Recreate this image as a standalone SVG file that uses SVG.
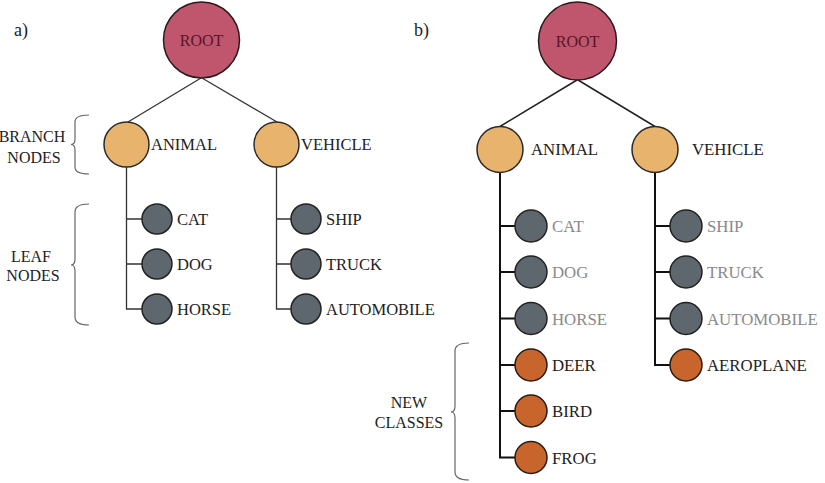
<svg xmlns="http://www.w3.org/2000/svg" width="825" height="483" viewBox="0 0 825 483">
<style>
text{font-family:"Liberation Serif","Times New Roman",serif;fill:#222;}
.lbl{font-size:16.5px;}
.lblb{font-size:16.8px;}
.gray{fill:#8a8a8a;}
.side{font-size:16px;text-anchor:middle;}
.tag{font-size:18px;}
.roottxt{font-size:16px;fill:#5a1425;text-anchor:middle;}
.root{fill:#c0566d;stroke:#2a1a1a;stroke-width:1.5;}
.branch{fill:#e8b46d;stroke:#2a2a2a;stroke-width:1.5;}
.leaf{fill:#5d676d;stroke:#222;stroke-width:1.5;}
.new{fill:#c8652c;stroke:#2a1a10;stroke-width:1.5;}
.la{fill:none;stroke:#333;stroke-width:1.3;}
.lb{fill:none;stroke:#111;stroke-width:2;}
.lbd{fill:none;stroke:#222;stroke-width:1.5;}
.brace{fill:none;stroke:#666;stroke-width:1.2;}
</style>
<g id="connectors">
<line class="la" x1="201" y1="78" x2="128" y2="122"/>
<line class="la" x1="202" y1="78" x2="277" y2="122"/>
<path class="la" d="M126.5,167 V309 H142 M126.5,219 H142 M126.5,264 H142"/>
<path class="la" d="M276.5,167 V309 H291 M276.5,219 H291 M276.5,264 H291"/>
<line class="lbd" x1="577" y1="80" x2="500" y2="126.5"/>
<line class="lbd" x1="578" y1="80" x2="655" y2="126.5"/>
<path class="lb" d="M500,172.5 V457.5 H515 M500,226 H515 M500,272 H515 M500,318.5 H515 M500,365 H515 M500,411 H515"/>
<path class="lb" d="M655,172.5 V365 H670 M655,226 H670 M655,272 H670 M655,318.5 H670"/>
</g>
<g id="annotations">
<text class="tag" x="14" y="36">a)</text>
<text class="tag" x="414" y="36">b)</text>
<path id="brace-branch" class="brace" d="M89,115 Q75,115 75,122 V139 Q75,144.5 71,144.5 Q75,144.5 75,150 V167 Q75,174 89,174"/>
<text class="side" x="32" y="142">BRANCH</text>
<text class="side" x="34" y="163">NODES</text>
<path id="brace-leaf" class="brace" d="M89,204 Q75,204 75,212 V259 Q75,265 71,265 Q75,265 75,271 V317 Q75,325 89,325"/>
<text class="side" x="31" y="262">LEAF</text>
<text class="side" x="33" y="281">NODES</text>
<path id="brace-new" class="brace" d="M469,343 Q455,343 455,351 V406 Q455,412 451,412 Q455,412 455,418 V472 Q455,480 469,480"/>
<text class="side" x="409" y="408">NEW</text>
<text class="side" x="409" y="428">CLASSES</text>
</g>
<g id="a-root"><circle class="root" cx="201.5" cy="40" r="38"/><text class="roottxt" x="201.5" y="46">ROOT</text></g>
<g id="a-animal"><circle class="branch" cx="126.5" cy="144.5" r="22.5"/><text class="lbl" x="151" y="150">ANIMAL</text></g>
<g id="a-vehicle"><circle class="branch" cx="276.5" cy="144.5" r="22.5"/><text class="lbl" x="301" y="150">VEHICLE</text></g>
<g id="a-cat"><circle class="leaf" cx="157" cy="219" r="15"/><text class="lbl" x="177" y="225">CAT</text></g>
<g id="a-dog"><circle class="leaf" cx="157" cy="264" r="15"/><text class="lbl" x="177" y="270">DOG</text></g>
<g id="a-horse"><circle class="leaf" cx="157" cy="309" r="15"/><text class="lbl" x="177" y="315">HORSE</text></g>
<g id="a-ship"><circle class="leaf" cx="306" cy="219" r="15"/><text class="lbl" x="326" y="225">SHIP</text></g>
<g id="a-truck"><circle class="leaf" cx="306" cy="264" r="15"/><text class="lbl" x="326" y="270">TRUCK</text></g>
<g id="a-automobile"><circle class="leaf" cx="306" cy="309" r="15"/><text class="lbl" x="326" y="315">AUTOMOBILE</text></g>
<g id="b-root"><circle class="root" cx="577.5" cy="41" r="39"/><text class="roottxt" x="577.5" y="47">ROOT</text></g>
<g id="b-animal"><circle class="branch" cx="500" cy="149.5" r="23"/><text class="lblb" x="531" y="155">ANIMAL</text></g>
<g id="b-vehicle"><circle class="branch" cx="655" cy="149.5" r="23"/><text class="lblb" x="692" y="155">VEHICLE</text></g>
<g id="b-cat"><circle class="leaf" cx="531" cy="226" r="16"/><text class="lblb gray" x="552" y="232">CAT</text></g>
<g id="b-dog"><circle class="leaf" cx="531" cy="272" r="16"/><text class="lblb gray" x="552" y="278">DOG</text></g>
<g id="b-horse"><circle class="leaf" cx="531" cy="318.5" r="16"/><text class="lblb gray" x="552" y="324.5">HORSE</text></g>
<g id="b-deer"><circle class="new" cx="531" cy="365" r="16"/><text class="lblb" x="552" y="371">DEER</text></g>
<g id="b-bird"><circle class="new" cx="531" cy="411" r="16"/><text class="lblb" x="552" y="417">BIRD</text></g>
<g id="b-frog"><circle class="new" cx="531" cy="457.5" r="16"/><text class="lblb" x="552" y="463.5">FROG</text></g>
<g id="b-ship"><circle class="leaf" cx="686" cy="226" r="16"/><text class="lblb gray" x="707" y="232">SHIP</text></g>
<g id="b-truck"><circle class="leaf" cx="686" cy="272" r="16"/><text class="lblb gray" x="707" y="278">TRUCK</text></g>
<g id="b-automobile"><circle class="leaf" cx="686" cy="318.5" r="16"/><text class="lblb gray" x="707" y="324.5">AUTOMOBILE</text></g>
<g id="b-aeroplane"><circle class="new" cx="686" cy="365" r="16"/><text class="lblb" x="707" y="371">AEROPLANE</text></g>
</svg>
